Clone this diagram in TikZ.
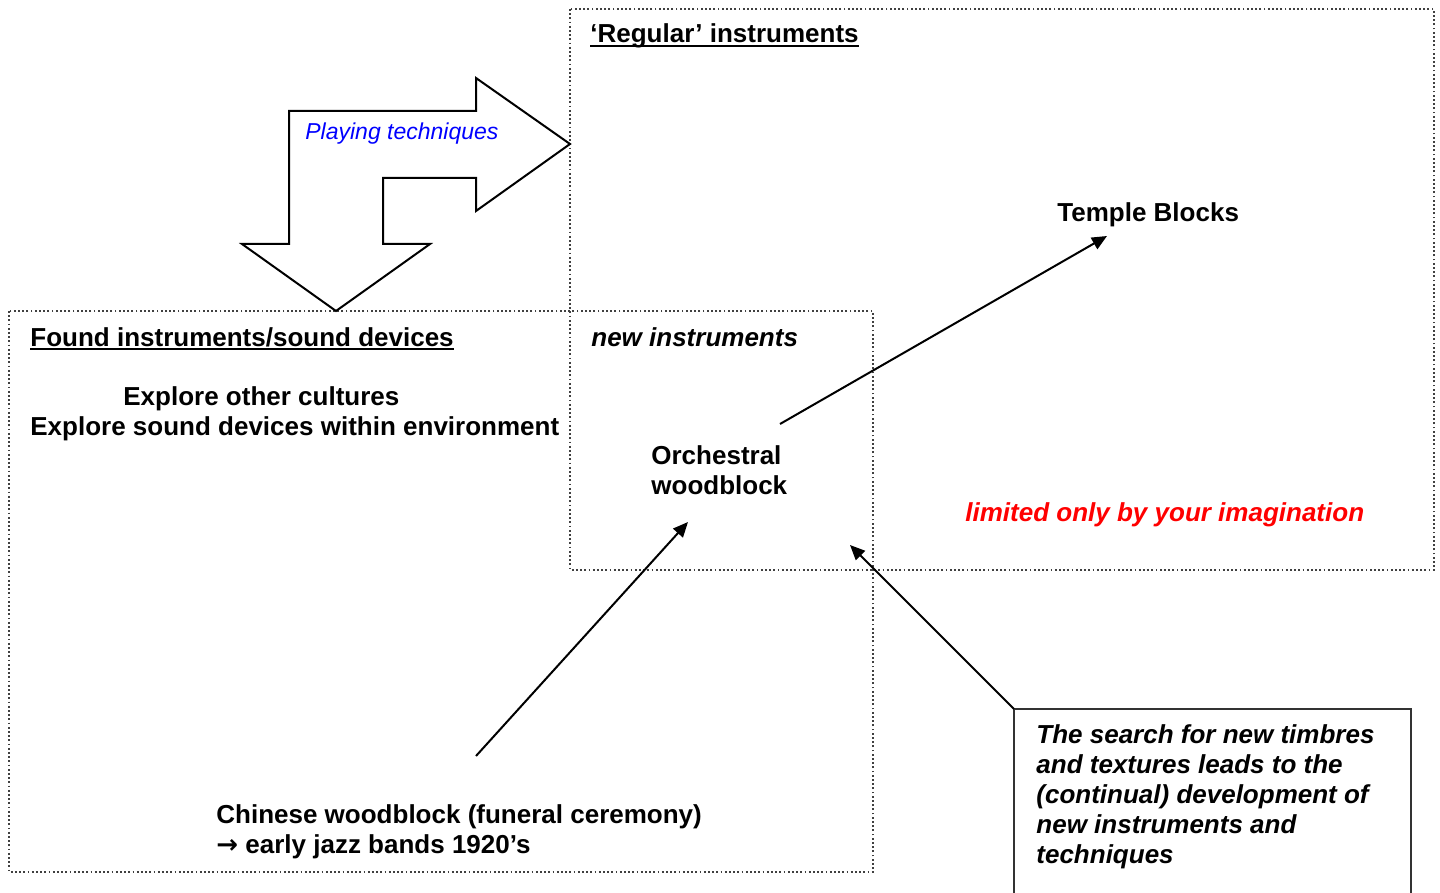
\documentclass[tikz,border=0pt]{standalone}
\usepackage{fontspec}
\setmainfont{Liberation Sans}
\newfontfamily\symbolfont{DejaVu Sans}
\usetikzlibrary{arrows.meta}
\begin{document}
\begin{tikzpicture}[x=0.5pt,y=-0.5pt]
    \tikzstyle{txt}=[inner sep=0pt, anchor=base west, align=left, font=\fontsize{13}{15}\selectfont\bfseries]
    \tikzstyle{area}=[draw=black!75, line width=0.9pt, dash pattern=on 0.9pt off 1.2pt]
    \tikzstyle{pointer}=[-{Triangle[length=7.5pt,width=6.5pt]}, line width=1pt]
    \tikzstyle{bigarrow}=[draw=black, line width=1pt, fill=white, line join=miter]
    \tikzstyle{uline}=[line width=1pt]

    \useasboundingbox (0,0) rectangle (1440,893);

    \draw[area] (570,9) rectangle (1434,570);
    \draw[area] (9,311) rectangle (873,872);

    \draw[bigarrow] (289,244) -- (242,244) -- (336,311) -- (430,244) -- (383,244)
        -- (383,178) -- (476,178) -- (476,211) -- (570,144) -- (476,78)
        -- (476,111) -- (289,111) -- cycle;

    \draw[draw=black!80, line width=1pt] (1014,900) |- (1411,709) -- (1411,900);

    \node[txt] at (590,43) (reg) {‘Regular’ instruments};
    \node[txt, font=\fontsize{11.5}{14}\selectfont\itshape, text=blue] at (305,140) (play) {Playing techniques};
    \node[txt] at (1057,222) (tb) {Temple Blocks};
    \node[txt] at (30,346) (found) {Found instruments/sound devices};
    \node[txt, font=\fontsize{13}{15}\selectfont\bfseries\itshape] at (591,346) (newi) {new instruments};
    \node[txt] at (123,405) (expl1) {Explore other cultures};
    \node[txt] at (30,435) (expl2) {Explore sound devices within environment};
    \node[txt] at (651,494) (ow) {Orchestral\\woodblock};
    \node[txt, font=\fontsize{13}{15}\selectfont\bfseries\itshape, text=red] at (965,521) (lim) {limited only by your imagination};
    \node[txt] at (216,853) (cw) {Chinese woodblock (funeral ceremony)\\{\symbolfont\bfseries→} early jazz bands 1920’s};
    \node[txt, font=\fontsize{13}{15}\selectfont\bfseries\itshape] at (1036,863) (srch) {The search for new timbres\\and textures leads to the\\(continual) development of\\new instruments and\\techniques};

    % underlined headings
    \draw[uline] ([yshift=-1.5pt]reg.base west) -- ([yshift=-1.5pt]reg.base east);
    \draw[uline] ([yshift=-1.5pt]found.base west) -- ([yshift=-1.5pt]found.base east);

    \coordinate (owtop) at (780,424);
    \coordinate (tbin) at (1107,236);
    \coordinate (cwtop) at (476,756);
    \coordinate (owbot) at (688,522);
    \coordinate (srchcorner) at (1014,709);
    \coordinate (owright) at (850,545);

    \draw (owtop) edge [pointer] (tbin);
    \draw (cwtop) edge [pointer] (owbot);
    \draw (srchcorner) edge [pointer] (owright);
\end{tikzpicture}
\end{document}
